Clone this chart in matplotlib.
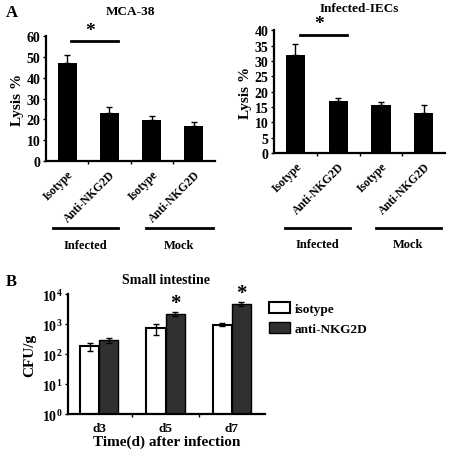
"""Lysis by NK cells (panel A) and bacterial load in small intestine (panel B)."""
import matplotlib
matplotlib.use("Agg")
import matplotlib.pyplot as plt
import numpy as np
from matplotlib.patches import Patch

plt.rcParams["font.family"] = ["Liberation Serif", "DejaVu Serif"]
plt.rcParams["font.weight"] = "bold"
plt.rcParams["axes.labelweight"] = "bold"
plt.rcParams["axes.titleweight"] = "bold"
plt.rcParams["mathtext.fontset"] = "custom"
plt.rcParams["mathtext.rm"] = "Liberation Serif:bold"
plt.rcParams["mathtext.bf"] = "Liberation Serif:bold"

# panel A data
bar_labels = ["Isotype", "Anti-NKG2D", "Isotype", "Anti-NKG2D"]
group_labels = ["Infected", "Mock"]
mca_lysis = [47, 23, 19.5, 17]
mca_err = [4, 3, 2, 1.5]
iec_lysis = [32, 16.8, 15.5, 13]
iec_err = [3.5, 1.2, 1.0, 2.8]

# panel B data
days = ["d3", "d5", "d7"]
cfu_isotype = [180, 720, 950]
cfu_isotype_err = [50, 300, 100]
cfu_anti = [290, 2150, 4700]
cfu_anti_err = [50, 300, 600]

fig = plt.figure(figsize=(4.5, 4.52), dpi=100)


def lysis_panel(rect, values, errs, ymax, yticks, title, sig_y, line_y, text_y,
                group_x, title_pad):
    ax = fig.add_axes(rect)
    x = np.arange(len(values))
    ax.bar(x, values, width=0.45, color="black")
    ax.errorbar(x, values, yerr=[np.zeros(len(errs)), errs], fmt="none",
                ecolor="black", elinewidth=1, capsize=2.5, capthick=1)
    ax.set_xlim(-0.5, 3.5)
    ax.set_ylim(0, ymax)
    ax.set_yticks(yticks)
    ax.tick_params(axis="y", labelsize=10, length=2, width=1, pad=2)
    ax.set_xticks(x)
    ax.set_xticklabels(bar_labels, rotation=45, ha="right",
                       rotation_mode="anchor", fontsize=8.5)
    ax.tick_params(axis="x", length=0, pad=5)
    ax.set_xticks([0.5, 1.5, 2.5], minor=True)
    ax.tick_params(axis="x", which="minor", length=2, width=1)
    for s in ["top", "right"]:
        ax.spines[s].set_visible(False)
    for s in ["left", "bottom"]:
        ax.spines[s].set_linewidth(1.6)
    ax.set_ylabel("Lysis %", fontsize=11, labelpad=2)
    ax.set_title(title, fontsize=9.5, pad=title_pad)
    # significance bar
    ax.plot([0.1, 1.2], [sig_y, sig_y], color="black", lw=2, clip_on=False)
    ax.text(0.55, sig_y * 1.02, "*", ha="center", va="bottom", fontsize=14)
    # group underlines
    tr = ax.get_xaxis_transform()
    for (x0, x1), name in zip(group_x, group_labels):
        ax.plot([x0, x1], [line_y, line_y], color="black", lw=2,
                transform=tr, clip_on=False)
        ax.text((x0 + x1) / 2, text_y, name, ha="center", va="center",
                fontsize=9, transform=tr)
    return ax


lysis_panel([0.102, 0.6416, 0.376, 0.2765], mca_lysis, mca_err, 60,
            range(0, 61, 10), "MCA-38", 57.5, -0.54, -0.67,
            [(-0.33, 1.21), (1.86, 3.45)], 16)
lysis_panel([0.609, 0.659, 0.38, 0.272], iec_lysis, iec_err, 40,
            range(0, 41, 5), "Infected-IECs", 38.5, -0.61, -0.74,
            [(-0.25, 1.28), (1.88, 3.41)], 14)

fig.text(0.012, 0.963, "A", fontsize=12)
fig.text(0.012, 0.368, "B", fontsize=12)

# panel B
axb = fig.add_axes([0.151, 0.0819, 0.438, 0.2655])
xb = np.arange(len(days))
w = 0.29
axb.bar(xb - w / 2, cfu_isotype, width=w, color="white", edgecolor="black",
        linewidth=1.5, label="isotype")
axb.bar(xb + w / 2, cfu_anti, width=w, color="#303030", edgecolor="black",
        linewidth=1, label="anti-NKG2D")
axb.errorbar(xb - w / 2, cfu_isotype, yerr=cfu_isotype_err, fmt="none",
             ecolor="black", elinewidth=1, capsize=2.5, capthick=1)
axb.errorbar(xb + w / 2, cfu_anti, yerr=cfu_anti_err, fmt="none",
             ecolor="black", elinewidth=1, capsize=2.5, capthick=1)
axb.set_yscale("log")
axb.set_ylim(1, 1e4)
axb.set_yticks([1, 10, 100, 1000, 10000])
axb.set_yticklabels([r"$10^0$", r"$10^1$", r"$10^2$", r"$10^3$", r"$10^4$"])
axb.minorticks_off()
axb.set_xlim(-0.47, 2.5)
axb.set_xticks(xb)
axb.set_xticklabels(days, fontsize=9.5)
axb.tick_params(axis="x", length=0, pad=6)
axb.set_xticks([0.5, 1.5], minor=True)
axb.tick_params(axis="x", which="minor", length=2, width=1)
axb.tick_params(axis="y", labelsize=10, length=2, width=1, pad=2)
for s in ["top", "right"]:
    axb.spines[s].set_visible(False)
for s in ["left", "bottom"]:
    axb.spines[s].set_linewidth(1.6)
axb.set_ylabel("CFU/g", fontsize=11, labelpad=4)
axb.set_xlabel("Time(d) after infection", fontsize=11, labelpad=0)
axb.set_title("Small intestine", fontsize=10, pad=8)
for i in [1, 2]:
    top = cfu_anti[i] + cfu_anti_err[i]
    axb.text(xb[i] + w / 2, top * 0.95, "*", ha="center", va="bottom",
             fontsize=15, clip_on=False)

handles = [Patch(facecolor="white", edgecolor="black", linewidth=1.5),
           Patch(facecolor="#303030", edgecolor="black")]
fig.legend(handles, ["isotype", "anti-NKG2D"], loc="upper left",
           bbox_to_anchor=(0.572, 0.356), frameon=False, fontsize=9.5,
           handlelength=1.6, handleheight=0.9, handletextpad=0.3,
           labelspacing=0.5)

fig.savefig("out.png", dpi=100)
